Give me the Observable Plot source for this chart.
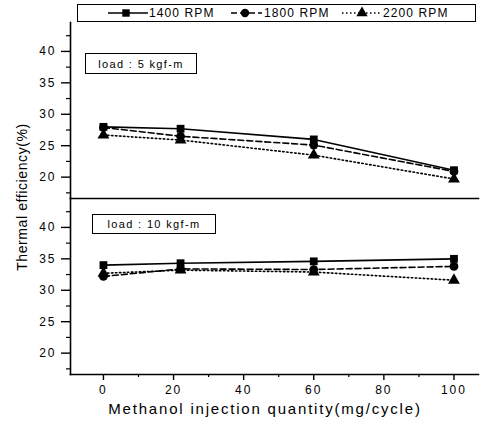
<!DOCTYPE html>
<html>
<head>
<meta charset="utf-8">
<script src="https://cdn.jsdelivr.net/npm/d3@7"></script>
<script src="https://cdn.jsdelivr.net/npm/@observablehq/plot@0.6"></script>
<style>
  body { margin: 0; background: #fff; }
  #wrap { position: relative; width: 482px; height: 425px; font-family: "Liberation Sans", Arial, sans-serif; color: #000; }
  #wrap svg { position: absolute; left: 0; top: 0; }
  .abs { position: absolute; white-space: nowrap; }
  .box { position: absolute; border: 1.5px solid #000; box-sizing: border-box; background: #fff; }
</style>
</head>
<body>
<div id="wrap"></div>
<script>
// ---- data ----
const injection = [0, 22, 60, 100];                 // mg/cycle
const series = ["1400 RPM", "1800 RPM", "2200 RPM"];
const loads = ["load : 5 kgf-m", "load : 10 kgf-m"];

const load5_1400 = [28.0, 27.7, 26.0, 21.1];
const load5_1800 = [27.9, 26.5, 25.1, 20.9];
const load5_2200 = [26.7, 25.9, 23.5, 19.7];

const load10_1400 = [34.0, 34.3, 34.6, 35.0];
const load10_1800 = [32.2, 33.4, 33.3, 33.8];
const load10_2200 = [32.7, 33.2, 32.9, 31.6];

const yTicks = [20, 25, 30, 35, 40];
const yMinor = [17.5, 22.5, 27.5, 32.5, 37.5, 42.5];
const xTicks = [0, 20, 40, 60, 80, 100];
const xMinor = [10, 30, 50, 70, 90];

const xLabel = "Methanol injection quantity(mg/cycle)";
const yLabel = "Thermal efficiency(%)";

// ---- build table ----
const values = [
  [load5_1400, load5_1800, load5_2200],
  [load10_1400, load10_1800, load10_2200]
];
const table = [];
loads.forEach((ld, li) => series.forEach((s, si) => injection.forEach((x, xi) => {
  table.push({load: ld, rpm: s, x, y: values[li][si][xi]});
})));

const dashes = [null, "6,3", "1.5,2.5"];
const symbols = ["square", "circle", "triangle"];

const lineMarks = series.map((s, i) => Plot.line(table.filter(d => d.rpm === s), {
  x: "x", y: "y", fy: "load", stroke: "black", strokeWidth: 1.6,
  strokeDasharray: dashes[i]
}));

const chart = Plot.plot({
  width: 482,
  height: 425,
  marginTop: 21,
  marginBottom: 51,
  marginLeft: 70,
  marginRight: 4,
  style: {fontFamily: "Liberation Sans, Arial, sans-serif", fontSize: "12px", letterSpacing: "2px", color: "black", background: "white"},
  x: {domain: [-9.4, 107]},
  y: {domain: [16.6, 44.6]},
  fy: {domain: loads, axis: null, padding: 0},
  symbol: {domain: series, range: symbols},
  marks: [
    Plot.frame({anchor: "left", strokeWidth: 1.6}),
    Plot.frame({anchor: "bottom", strokeWidth: 1.6}),
    Plot.axisY({ticks: yTicks, tickSize: 9, tickPadding: 5, strokeWidth: 1.4, fontSize: 12, label: null}),
    Plot.axisY({ticks: yMinor, tickSize: 4, tickFormat: () => "", strokeWidth: 1.2, label: null}),
    Plot.axisX({ticks: xTicks, tickSize: 6, tickPadding: 5, strokeWidth: 1.4, fontSize: 12, label: null}),
    Plot.axisX({ticks: xMinor, tickSize: 3, tickFormat: () => "", strokeWidth: 1.2, label: null}),
    ...lineMarks,
    Plot.dot(table, {x: "x", y: "y", fy: "load", symbol: "rpm", r: 4.4, fill: "black", stroke: "none"})
  ]
});

const wrap = document.getElementById("wrap");
wrap.appendChild(chart);

// ---- legend (above the plot frame) ----
const legend = document.createElement("div");
legend.className = "box";
Object.assign(legend.style, {left: "77px", top: "4px", width: "399px", height: "18px"});
wrap.appendChild(legend);

const legItems = [
  {lineL: 108, lineW: 40, mark: 18, text: 149},
  {lineL: 231, lineW: 31, mark: 14, text: 264},
  {lineL: 342, lineW: 40, mark: 20, text: 383}
];
const symPath = d3.symbol();
series.forEach((s, i) => {
  const it = legItems[i];
  const svg = d3.create("svg")
    .attr("width", it.lineW).attr("height", 16)
    .style("position", "absolute").style("left", it.lineL + "px").style("top", "5px");
  svg.append("line").attr("x1", 0).attr("x2", it.lineW).attr("y1", 8).attr("y2", 8)
    .attr("stroke", "black").attr("stroke-width", 1.6)
    .attr("stroke-dasharray", dashes[i]);
  const sym = [d3.symbolSquare, d3.symbolCircle, d3.symbolTriangle][i];
  svg.append("path").attr("d", d3.symbol(sym, 55)())
    .attr("transform", `translate(${it.mark},8)`).attr("fill", "black");
  wrap.appendChild(svg.node());
  const t = document.createElement("div");
  t.className = "abs";
  t.textContent = s;
  Object.assign(t.style, {left: it.text + "px", top: "6px", fontSize: "12px", letterSpacing: "1.1px", lineHeight: "14px"});
  wrap.appendChild(t);
});

// ---- panel labels ----
const panelBoxes = [
  {left: 85, top: 53, w: 112, h: 21},
  {left: 92, top: 214, w: 124, h: 20}
];
loads.forEach((ld, i) => {
  const b = panelBoxes[i];
  const d = document.createElement("div");
  d.className = "box";
  Object.assign(d.style, {left: b.left + "px", top: b.top + "px", width: b.w + "px", height: b.h + "px",
    display: "flex", alignItems: "center", justifyContent: "center",
    fontSize: "11px", letterSpacing: "1.35px"});
  d.textContent = ld;
  wrap.appendChild(d);
});

// ---- axis titles ----
const xl = document.createElement("div");
xl.className = "abs";
xl.textContent = xLabel;
Object.assign(xl.style, {left: "265px", top: "408px", transform: "translate(-50%,-50%)", fontSize: "15px", letterSpacing: "1.8px"});
wrap.appendChild(xl);

const yl = document.createElement("div");
yl.className = "abs";
yl.textContent = yLabel;
Object.assign(yl.style, {left: "22px", top: "197px", transform: "translate(-50%,-50%) rotate(-90deg)", fontSize: "14px", letterSpacing: "0.6px"});
wrap.appendChild(yl);
</script>
</body>
</html>
